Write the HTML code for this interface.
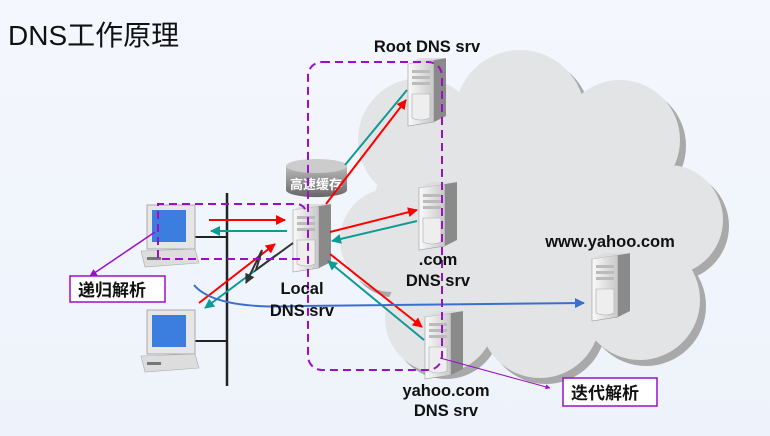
<!DOCTYPE html>
<html><head><meta charset="utf-8"><style>
body{margin:0;width:770px;height:436px;overflow:hidden;background:linear-gradient(180deg,#f4f7fd,#eef3fb);}
svg{display:block}
text{font-family:"Liberation Sans","Noto Sans CJK SC",sans-serif;}
</style></head><body>
<svg width="770" height="436" viewBox="0 0 770 436" xmlns="http://www.w3.org/2000/svg">
<defs>
<linearGradient id="fr" x1="0" x2="1"><stop offset="0" stop-color="#fafafa"/><stop offset="1" stop-color="#c8c8c8"/></linearGradient>
<linearGradient id="cy" x1="0" y1="0" x2="0" y2="1"><stop offset="0" stop-color="#bbb"/><stop offset="1" stop-color="#666"/></linearGradient>
<g id="srv">
<polygon points="0,6 26,2 26,64 0,68" fill="url(#fr)" stroke="#999" stroke-width="0.6"/>
<polygon points="26,2 38,0 38,58 26,64" fill="#8a8a8a"/>
<polygon points="0,6 12,0 38,0 26,2" fill="#ddd"/>
<rect x="4" y="12" width="18" height="3" fill="#bbb"/><rect x="4" y="18" width="18" height="3" fill="#bbb"/><rect x="4" y="24" width="18" height="3" fill="#bbb"/>
<path d="M4 36 h18 v24 q-9 4 -18 0z" fill="#eee" stroke="#aaa" stroke-width="0.6"/>
</g>
<g id="pc">
<rect x="6" y="0" width="48" height="44" fill="#e6e6e6" stroke="#aaa"/>
<rect x="11" y="5" width="34" height="32" fill="#3c7ee0"/>
<polygon points="0,46 54,44 58,58 4,62" fill="#ddd" stroke="#aaa" stroke-width="0.6"/>
<rect x="6" y="52" width="14" height="3" fill="#777"/>
</g>
<marker id="ar" viewBox="0 0 10 10" refX="9" refY="5" markerWidth="5" markerHeight="5" orient="auto"><path d="M0 0L10 5L0 10z" fill="#f00"/></marker>
<marker id="at" viewBox="0 0 10 10" refX="9" refY="5" markerWidth="5" markerHeight="5" orient="auto"><path d="M0 0L10 5L0 10z" fill="#109a96"/></marker>
<marker id="ab" viewBox="0 0 10 10" refX="9" refY="5" markerWidth="5" markerHeight="5" orient="auto"><path d="M0 0L10 5L0 10z" fill="#3a6fd0"/></marker>
<marker id="ap" viewBox="0 0 10 10" refX="9" refY="5" markerWidth="5" markerHeight="5" orient="auto"><path d="M0 0L10 5L0 10z" fill="#9a10c8"/></marker>
<marker id="ak" viewBox="0 0 10 10" refX="9" refY="5" markerWidth="5" markerHeight="5" orient="auto"><path d="M0 0L10 5L0 10z" fill="#333"/></marker>
<g id="cloud">
<circle cx="420" cy="140" r="62"/><circle cx="520" cy="115" r="65"/><circle cx="620" cy="140" r="60"/><circle cx="668" cy="220" r="55"/><circle cx="640" cy="300" r="60"/><circle cx="540" cy="318" r="60"/><circle cx="440" cy="318" r="55"/><circle cx="392" cy="240" r="52"/><ellipse cx="530" cy="220" rx="160" ry="115"/>
</g>
</defs>
<text x="8" y="45" font-size="28" fill="#111">DNS工作原理</text>
<use href="#cloud" fill="#a9a9a9" transform="translate(6,6)"/>
<use href="#cloud" fill="#e3e4e6"/>
<!-- network bar -->
<line x1="227" y1="193" x2="227" y2="386" stroke="#222" stroke-width="2.5"/>
<line x1="195" y1="237" x2="227" y2="237" stroke="#222" stroke-width="2"/>
<line x1="195" y1="341" x2="227" y2="341" stroke="#222" stroke-width="2"/>
<use href="#pc" x="141" y="205"/>
<use href="#pc" x="141" y="310"/>
<use href="#srv" x="408" y="58"/>
<use href="#srv" x="419" y="182"/>
<use href="#srv" x="425" y="311"/>
<use href="#srv" x="592" y="253"/>
<use href="#srv" x="293" y="204"/>
<path d="M286 166 v24 a30 7 0 0 0 61 0 v-24z" fill="url(#cy)"/>
<ellipse cx="316.5" cy="166" rx="30.5" ry="7" fill="#ccc"/>
<text x="316" y="189" font-size="13" fill="#fff" text-anchor="middle" font-weight="bold">高速缓存</text>
<g stroke-width="2" fill="none">
<line x1="209" y1="220" x2="285" y2="220" stroke="#f00" marker-end="url(#ar)"/>
<line x1="287" y1="231" x2="211" y2="231" stroke="#109a96" marker-end="url(#at)"/>
<line x1="199" y1="303" x2="275" y2="244" stroke="#f00" marker-end="url(#ar)"/>
<line x1="276" y1="255" x2="205" y2="308" stroke="#109a96" marker-end="url(#at)"/>
<polyline points="293,243 256,270 262,250 246,283" stroke="#333" marker-end="url(#ak)"/>
<line x1="326" y1="204" x2="406" y2="100" stroke="#f00" marker-end="url(#ar)"/>
<line x1="407" y1="90" x2="345" y2="165" stroke="#109a96"/>
<line x1="330" y1="232" x2="417" y2="210" stroke="#f00" marker-end="url(#ar)"/>
<line x1="417" y1="221" x2="332" y2="241" stroke="#109a96" marker-end="url(#at)"/>
<line x1="330" y1="254" x2="422" y2="327" stroke="#f00" marker-end="url(#ar)"/>
<line x1="424" y1="340" x2="328" y2="261" stroke="#109a96" marker-end="url(#at)"/>
<path d="M194 285 Q215 310 300 306 L584 303" stroke="#3a6fd0" marker-end="url(#ab)"/>
<line x1="440" y1="358" x2="550" y2="388" stroke="#9a10c8" stroke-width="1" marker-end="url(#ap)"/>
<line x1="155" y1="232" x2="90" y2="276" stroke="#9a10c8" stroke-width="1.5" marker-end="url(#ap)"/>
</g>
<rect x="308" y="62" width="134" height="308" rx="14" fill="none" stroke="#9a10c8" stroke-width="2" stroke-dasharray="8,5"/>
<path d="M300 259 H158 V204 H298 Q306 206 306 214" fill="none" stroke="#9a10c8" stroke-width="2" stroke-dasharray="8,5"/>
<g font-weight="bold" font-size="16.5" fill="#111" text-anchor="middle">
<text x="427" y="52">Root DNS srv</text>
<text x="438" y="265">.com</text>
<text x="438" y="286">DNS srv</text>
<text x="610" y="247">www.yahoo.com</text>
<text x="302" y="294">Local</text>
<text x="302" y="316">DNS srv</text>
<text x="446" y="396">yahoo.com</text>
<text x="446" y="416">DNS srv</text>
</g>
<rect x="70" y="276" width="95" height="26" fill="#fff" stroke="#9a10c8" stroke-width="1.5"/>
<text x="78" y="296" font-size="17" font-weight="bold" fill="#111">递归解析</text>
<rect x="563" y="378" width="94" height="28" fill="#fff" stroke="#9a10c8" stroke-width="1.5"/>
<text x="571" y="399" font-size="17" font-weight="bold" fill="#111">迭代解析</text>
</svg>
</body></html>
